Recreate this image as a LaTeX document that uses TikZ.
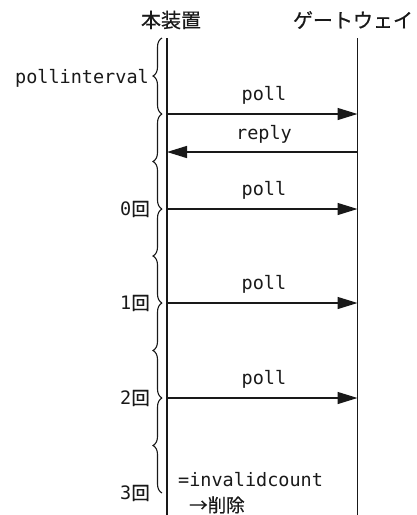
\documentclass[tikz,border=0pt]{standalone}
\usepackage{fontspec}
\setmainfont{DejaVu Sans Mono}
\newfontfamily\jp[FakeBold=0.6]{Noto Sans CJK JP}
\usetikzlibrary{arrows.meta,decorations.pathreplacing}
\tikzset{
  life/.style={line width=1.4pt, draw=black!90},
  msg/.style={line width=1.4pt, draw=black!90, -{Triangle[length=20pt,width=12pt]}},
  brc/.style={line width=1.1pt, draw=black!90, decorate, decoration={brace, amplitude=9pt}},
  lbl/.style={inner sep=0pt, font=\fontsize{18.5}{20}\selectfont, text=black!90},
  head/.style={inner sep=0pt, font=\jp\fontsize{20}{22}\selectfont, text=black!90},
}
\begin{document}
\begin{tikzpicture}[x=1pt,y=-1pt]
\useasboundingbox (0,0) rectangle (416,515);
% headers
\node[head] (dev) at (171,20) {本装置};
\node[head] (gw) at (353,20) {ゲートウェイ};
% lifelines
\coordinate (Ltop) at (167,38);
\coordinate (Lbot) at (167,515);
\coordinate (Rtop) at (357.5,38);
\coordinate (Rbot) at (357.5,515);
\draw[life] (Ltop) -- (Lbot);
\draw[life] (Rtop) -- (Rbot);
% messages
\coordinate (L1) at (167,114); \coordinate (R1) at (357.5,114);
\coordinate (L2) at (167,152); \coordinate (R2) at (357.5,152);
\coordinate (L3) at (167,209); \coordinate (R3) at (357.5,209);
\coordinate (L4) at (167,303); \coordinate (R4) at (357.5,303);
\coordinate (L5) at (167,398); \coordinate (R5) at (357.5,398);
\draw[msg] (L1) -- (R1);
\draw[msg] (R2) -- (L2);
\draw[msg] (L3) -- (R3);
\draw[msg] (L4) -- (R4);
\draw[msg] (L5) -- (R5);
\node[lbl, anchor=base] (m1) at (264,100) {poll};
\node[lbl, anchor=base] (m2) at (264,139) {reply};
\node[lbl, anchor=base] (m3) at (264,195) {poll};
\node[lbl, anchor=base] (m4) at (264,289) {poll};
\node[lbl, anchor=base] (m5) at (264,384) {poll};
% braces
\coordinate (B0) at (162,38);
\coordinate (B1) at (162,114);
\coordinate (B2) at (162,209);
\coordinate (B3) at (162,303);
\coordinate (B4) at (162,398);
\coordinate (B5) at (162,493);
\draw[brc] (B1) -- (B0);
\draw[brc] (B2) -- (B1);
\draw[brc] (B3) -- (B2);
\draw[brc] (B4) -- (B3);
\draw[brc] (B5) -- (B4);
% brace labels
\node[lbl, anchor=base east] (pi) at (149,83) {pollinterval};
\node[lbl, anchor=east] (c0) at (150,209) {0{\jp 回}};
\node[lbl, anchor=east] (c1) at (150,303) {1{\jp 回}};
\node[lbl, anchor=east] (c2) at (150,398) {2{\jp 回}};
\node[lbl, anchor=east] (c3) at (150,493) {3{\jp 回}};
% note
\node[lbl, anchor=base west] (n1) at (178,486) {=invalidcount};
\node[lbl, anchor=base west] (n2) at (189,512) {{\jp →削除}};
\end{tikzpicture}
\end{document}
